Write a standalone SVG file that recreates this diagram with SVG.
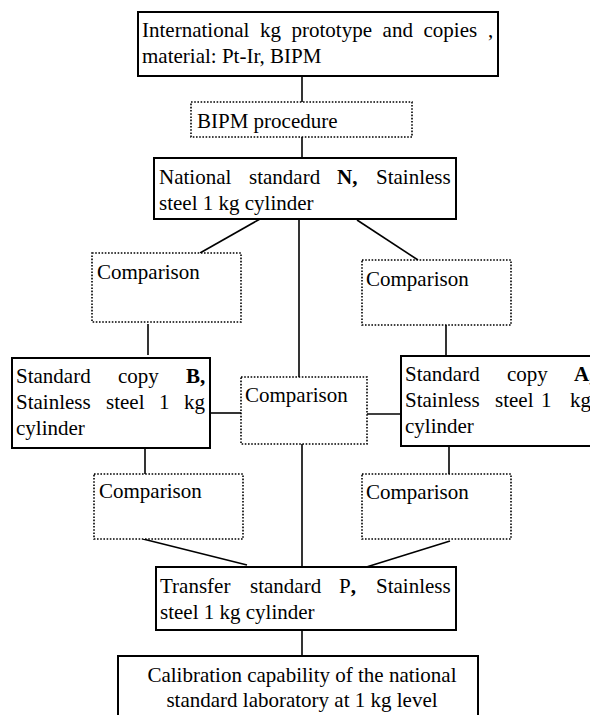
<svg xmlns="http://www.w3.org/2000/svg" width="590" height="715" viewBox="0 0 590 715">
<style>
text{font-family:"Liberation Serif","Times New Roman",serif;font-size:21px;fill:#000}
.b{font-weight:bold}
.box{fill:#fff;stroke:#000;stroke-width:2}
.dot{fill:#fff;stroke:#000;stroke-width:1.6;stroke-dasharray:1.6 1.6}
.c line{stroke:#000;stroke-width:1.6}
</style>
<rect width="590" height="715" fill="#fff"/>
<g class="c" id="connectors">
<line x1="302" y1="76" x2="302" y2="102"/>
<line x1="302" y1="137" x2="302" y2="158"/>
<line x1="260" y1="219" x2="200" y2="253"/>
<line x1="357" y1="220" x2="418" y2="260"/>
<line x1="299" y1="219" x2="299" y2="377"/>
<line x1="148" y1="324" x2="148" y2="355"/>
<line x1="446" y1="325" x2="446" y2="356"/>
<line x1="210" y1="413" x2="241" y2="413"/>
<line x1="367" y1="414" x2="401" y2="414"/>
<line x1="145" y1="448" x2="145" y2="478"/>
<line x1="449" y1="446" x2="449" y2="478"/>
<line x1="302" y1="444" x2="302" y2="567"/>
<line x1="143" y1="539" x2="247" y2="565"/>
<line x1="450" y1="541" x2="360" y2="569"/>
<line x1="302" y1="630" x2="302" y2="656"/>
</g>
<g id="prototype">
<rect class="box" x="138" y="12" width="360" height="64"/>
<text y="37"><tspan x="142">International</tspan><tspan x="259.9">kg</tspan><tspan x="291.5">prototype</tspan><tspan x="382.6">and</tspan><tspan x="423.5">copies</tspan><tspan x="488">,</tspan></text>
<text x="142" y="63">material: Pt-Ir, BIPM</text>
</g>
<g id="bipm">
<rect class="dot" x="191" y="102" width="221" height="35"/>
<text x="197" y="128">BIPM procedure</text>
</g>
<g id="national">
<rect class="box" x="154" y="158" width="302" height="61"/>
<text y="184"><tspan x="159">National</tspan><tspan x="249">standard</tspan><tspan x="337" class="b">N,</tspan><tspan x="376">Stainless</tspan></text>
<text x="159" y="210">steel 1 kg cylinder</text>
</g>
<g id="comp-left">
<rect class="dot" x="92" y="253" width="149" height="69"/>
<text x="97" y="279">Comparison</text>
</g>
<g id="comp-right">
<rect class="dot" x="362" y="260" width="149" height="65"/>
<text x="366" y="286">Comparison</text>
</g>
<g id="copy-b">
<rect class="box" x="12" y="358" width="198" height="90"/>
<text y="383"><tspan x="16">Standard</tspan><tspan x="118">copy</tspan><tspan x="186" class="b">B,</tspan></text>
<text y="409"><tspan x="16">Stainless</tspan><tspan x="106">steel</tspan><tspan x="159">1</tspan><tspan x="184">kg</tspan></text>
<text x="16" y="435">cylinder</text>
</g>
<g id="comp-center">
<rect class="dot" x="241" y="377" width="126" height="67"/>
<text x="245" y="402">Comparison</text>
</g>
<g id="copy-a">
<rect class="box" x="401" y="356" width="198" height="90"/>
<text y="381"><tspan x="405">Standard</tspan><tspan x="507">copy</tspan><tspan x="574" class="b">A,</tspan></text>
<text y="407"><tspan x="405">Stainless</tspan><tspan x="495">steel</tspan><tspan x="541">1</tspan><tspan x="570">kg</tspan></text>
<text x="405" y="433">cylinder</text>
</g>
<g id="comp-lower-left">
<rect class="dot" x="94" y="474" width="149" height="65"/>
<text x="99" y="498">Comparison</text>
</g>
<g id="comp-lower-right">
<rect class="dot" x="362" y="474" width="149" height="65"/>
<text x="366" y="499">Comparison</text>
</g>
<g id="transfer">
<rect class="box" x="156" y="567" width="300" height="63"/>
<text y="593"><tspan x="160">Transfer</tspan><tspan x="250">standard</tspan><tspan x="339">P<tspan class="b">,</tspan></tspan><tspan x="376">Stainless</tspan></text>
<text x="160" y="619">steel 1 kg cylinder</text>
</g>
<g id="calibration">
<rect class="box" x="118" y="656" width="360" height="80"/>
<text x="302" y="682" text-anchor="middle">Calibration capability of the national</text>
<text x="302" y="707" text-anchor="middle">standard laboratory at 1 kg level</text>
</g>
</svg>
